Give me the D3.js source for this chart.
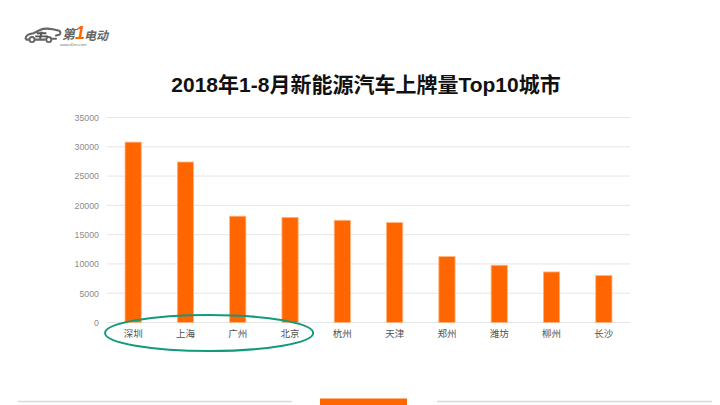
<!DOCTYPE html>
<html><head><meta charset="utf-8">
<script src="https://cdn.jsdelivr.net/npm/d3@7"></script>
<style>
html,body{margin:0;padding:0;background:#fff;}
svg{display:block;font-family:"Liberation Sans","Noto Sans CJK SC",sans-serif;}
</style></head>
<body>
<svg id="c" width="720" height="405"></svg>
<script>
const cities = ["深圳","上海","广州","北京","杭州","天津","郑州","潍坊","柳州","长沙"];
const plates = [30800, 27400, 18150, 17950, 17450, 17050, 11250, 9770, 8630, 8010];
const yTicks = [0,5000,10000,15000,20000,25000,30000,35000];
const titleText = "2018年1-8月新能源汽车上牌量Top10城市";
const highlighted = ["深圳","上海","广州","北京"];

const svg = d3.select("#c");
const margin = {left:107, right:90, top:117.5, bottom:82.5};
const W = 720, H = 405;

const x = d3.scaleBand().domain(cities).range([margin.left, W - margin.right]).paddingInner(0.69).paddingOuter(0.345);
const y = d3.scaleLinear().domain([0,35000]).range([H - margin.bottom, margin.top]);

// gridlines
svg.append("g").selectAll("line").data(yTicks).join("line")
  .attr("x1", margin.left).attr("x2", W - margin.right)
  .attr("y1", d=>y(d)).attr("y2", d=>y(d))
  .attr("stroke", "#e6e6e6").attr("stroke-width", 1);

// y axis
const yAxis = svg.append("g").attr("transform", `translate(${margin.left},0)`)
  .call(d3.axisLeft(y).tickValues(yTicks).tickSize(0).tickPadding(8).tickFormat(d3.format("d")));
yAxis.select(".domain").remove();
yAxis.selectAll("text").attr("fill","#8c8c8c").style("font-size","8.8px").style("font-family","Liberation Sans, sans-serif");

// bars
svg.append("g").selectAll("rect").data(cities).join("rect")
  .attr("x", d=>x(d)).attr("width", x.bandwidth())
  .attr("y", (d,i)=>y(plates[i])).attr("height", (d,i)=>y(0)-y(plates[i]))
  .attr("fill","#ff6600").attr("stroke","#ffb380").attr("stroke-width",0.8);

// x axis
const xAxis = svg.append("g").attr("transform", `translate(0,${y(0)})`)
  .call(d3.axisBottom(x).tickSize(0).tickPadding(8));
xAxis.select(".domain").remove();
xAxis.selectAll("text").attr("fill","#505050").style("font-size","9.5px").style("font-family","Noto Sans CJK SC, sans-serif");

// highlight ellipse
const x0 = x(highlighted[0]), x1 = x(highlighted[highlighted.length-1]) + x.bandwidth();
svg.append("ellipse")
  .attr("cx", (x0 + x1)/2 - 2.5).attr("cy", y(0) + 10.5)
  .attr("rx", (x1 - x0)/2 + 17.5).attr("ry", 18)
  .attr("fill","none").attr("stroke","#139a7a").attr("stroke-width",2);

// title
svg.append("text").attr("x", 366).attr("y", 92).attr("text-anchor","middle")
  .attr("fill","#111").style("font-size","21px").style("font-weight","bold")
  .style("font-family","Liberation Sans, Noto Sans CJK SC, sans-serif")
  .text(titleText);

// logo
const logo = svg.append("g").attr("transform","translate(24,24)");
const car = logo.append("g").attr("transform","translate(0,2) scale(0.8)");
car.append("path")
  .attr("d","M2,16 C2,11 6,10 12,9 L20,5 C24,3 30,3 36,4 L44,6 C46,7 46,10 44,11 L40,12 M40,16 L36,16 M26,17 L14,17 M6,17 L3,17")
  .attr("fill","none").attr("stroke","#666").attr("stroke-width",2.6).attr("stroke-linecap","round");
car.append("circle").attr("cx",10).attr("cy",17).attr("r",3.2).attr("fill","none").attr("stroke","#666").attr("stroke-width",2.4);
car.append("circle").attr("cx",31).attr("cy",17).attr("r",3.2).attr("fill","none").attr("stroke","#666").attr("stroke-width",2.4);
car.append("path").attr("d","M16,9 L28,9 M14,13 L30,13 M22,7 L20,16").attr("stroke","#555").attr("stroke-width",2.4).attr("fill","none");
logo.append("text").attr("x",38).attr("y",15).style("font-size","13px").style("font-weight","bold").style("font-style","italic")
  .attr("fill","#666").style("font-family","Noto Sans CJK SC, sans-serif").text("第");
logo.append("text").attr("x",51).attr("y",15).style("font-size","18px").style("font-weight","bold").style("font-style","italic")
  .attr("fill","#ff6600").text("1");
logo.append("text").attr("x",60).attr("y",16).style("font-size","12px").style("font-weight","bold").style("font-style","italic")
  .attr("fill","#666").style("font-family","Noto Sans CJK SC, sans-serif").text("电动");
logo.append("text").attr("x",36).attr("y",21.5).style("font-size","4px").attr("fill","#777").text("www.d1ev.com");

// bottom decoration
svg.append("line").attr("x1",18).attr("x2",292).attr("y1",401.5).attr("y2",401.5).attr("stroke","#d9d9d9").attr("stroke-width",1.5);
svg.append("line").attr("x1",437).attr("x2",712).attr("y1",401.5).attr("y2",401.5).attr("stroke","#d9d9d9").attr("stroke-width",1.5);
svg.append("rect").attr("x",320).attr("y",398.5).attr("width",87).attr("height",7).attr("fill","#ff6600");
</script>
</body></html>
